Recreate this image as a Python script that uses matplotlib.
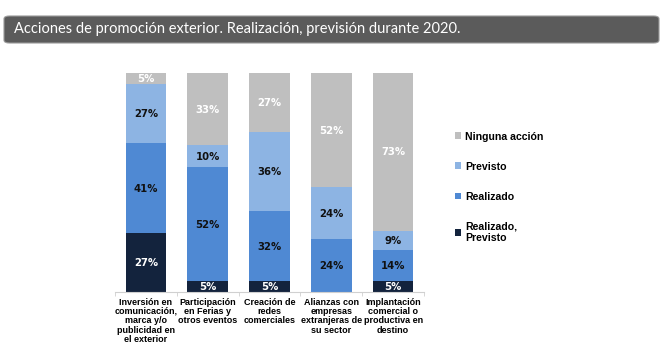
import matplotlib.pyplot as plt
from matplotlib.patches import FancyBboxPatch, Patch
import numpy as np

categories = ["Inversión en\ncomunicación,\nmarca y/o\npublicidad en\nel exterior",
              "Participación\nen Ferias y\notros eventos",
              "Creación de\nredes\ncomerciales",
              "Alianzas con\nempresas\nextranjeras de\nsu sector",
              "Implantación\ncomercial o\nproductiva en\ndestino"]
series_names = ["Realizado,\nPrevisto", "Realizado", "Previsto", "Ninguna acción"]
realizado_previsto = [27, 5, 5, 0, 5]
realizado = [41, 52, 32, 24, 14]
previsto = [27, 10, 36, 24, 9]
ninguna = [5, 33, 27, 52, 73]

colors = ["#13233d", "#4f89d3", "#8db4e3", "#bfbfbf"]
text_colors = ["white", "#111111", "#111111", "white"]

fig = plt.figure(figsize=(6.7, 3.55), dpi=100)

# title bar
bar = FancyBboxPatch((4 / 670, 1 - 43 / 355), 655 / 670, 27 / 355,
                     boxstyle="round,pad=0,rounding_size=0.008",
                     transform=fig.transFigure, facecolor="#5b5b5b",
                     edgecolor="#9a9a9a", linewidth=0.8)
fig.patches.append(bar)
fig.text(14 / 670, 1 - 29 / 355, "Acciones de promoción exterior. Realización, previsión durante 2020.",
         color="white", fontsize=10.5, family="Lato", va="center", ha="left")

ax = fig.add_axes([115 / 670, 1 - 292 / 355, 309 / 670, 219 / 355])
x = np.arange(len(categories))
data = [realizado_previsto, realizado, previsto, ninguna]
bottom = np.zeros(len(categories))
for vals, col, tc in zip(data, colors, text_colors):
    vals = np.array(vals)
    ax.bar(x, vals, 0.66, bottom=bottom, color=col)
    for xi, v, b in zip(x, vals, bottom):
        if v > 0:
            top = min(b + v, 100)
            ax.text(xi, (b + top) / 2 - 0.3, f"{v}%", ha="center", va="center",
                    color=tc, fontsize=7.3, fontweight="bold", family="DejaVu Sans")
    bottom += vals

ax.set_xlim(-0.5, 4.5)
ax.set_ylim(0, 100)
for s in ["top", "right", "left"]:
    ax.spines[s].set_visible(False)
ax.spines["bottom"].set_color("#d0d0d0")
ax.set_yticks([])
ax.set_xticks(x)
ax.set_xticklabels(categories, fontsize=6.5, fontweight="bold", family="Liberation Sans",
                   linespacing=1.05, va="top")
ax.tick_params(axis="x", length=0, pad=4)
ax.set_xticks(np.arange(-0.5, 5, 1), minor=True)
ax.tick_params(axis="x", which="minor", length=3, color="#d0d0d0")

handles = [Patch(facecolor=c) for c in colors[::-1]]
fig.legend(handles, series_names[::-1], loc="upper left", bbox_to_anchor=(445 / 670, 1 - 122 / 355),
           frameon=False, handlelength=0.6, handleheight=0.6, handletextpad=0.4,
           labelspacing=1.9, prop={"family": "Liberation Sans", "weight": "bold", "size": 7.6})

fig.savefig("out.png", dpi=100)
